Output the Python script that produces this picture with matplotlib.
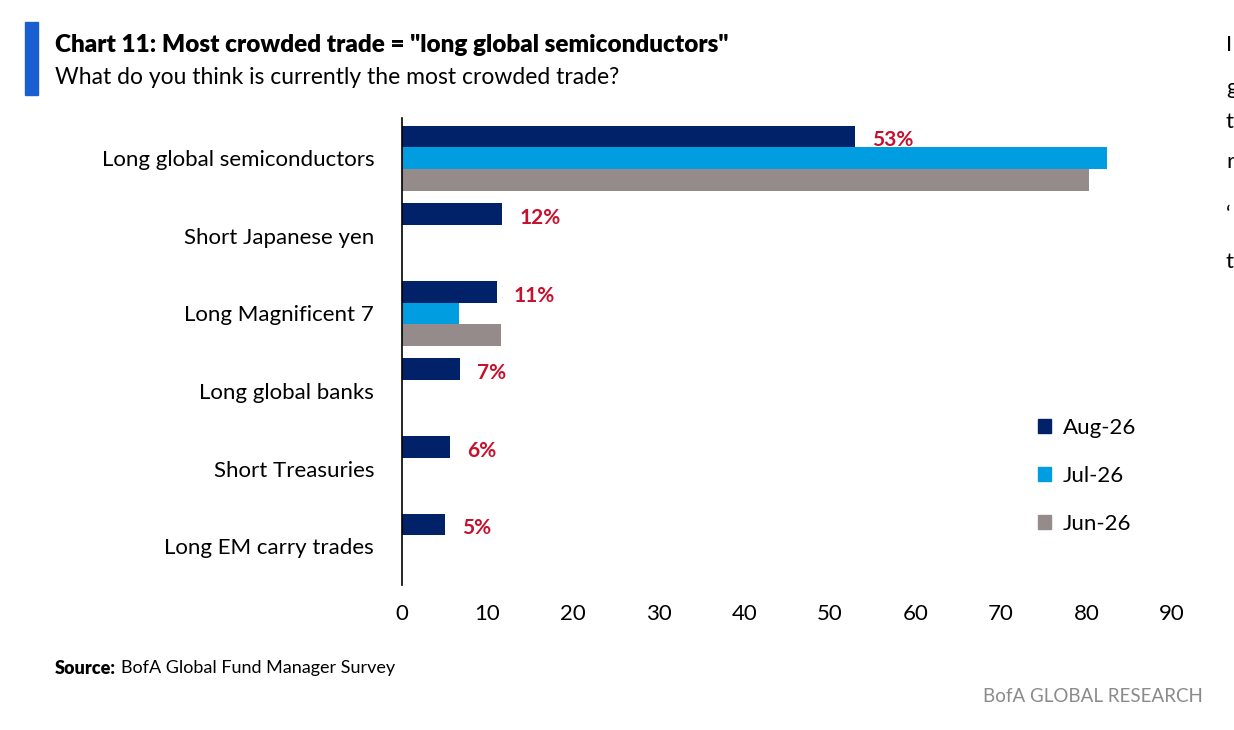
import matplotlib.pyplot as plt
from matplotlib.patches import Rectangle

# === Data ===
categories = ['Long global semiconductors', 'Short Japanese yen', 'Long Magnificent 7',
              'Long global banks', 'Short Treasuries', 'Long EM carry trades']
aug = [52.9, 11.7, 11.1, 6.8, 5.6, 5.0]
jul = [82.4, None, 6.7, None, None, None]
jun = [80.3, None, 11.6, None, None, None]
labels = ['53%', '12%', '11%', '7%', '6%', '5%']
xticks = [0, 10, 20, 30, 40, 50, 60, 70, 80, 90]

NAVY, CYAN, GREY, RED = '#012169', '#009ee0', '#958b8b', '#c8102e'
plt.rcParams['font.family'] = ['Lato', 'DejaVu Sans']

fig = plt.figure(figsize=(12.34, 7.3), dpi=100)
ax = fig.add_axes([402 / 1234, 1 - 585 / 730, (1172 - 402) / 1234, (585 - 118) / 730])

h = 0.28
for i, cat in enumerate(categories):
    ax.barh(i - h, aug[i], height=h, color=NAVY)
    if jul[i] is not None:
        ax.barh(i, jul[i], height=h, color=CYAN)
    if jun[i] is not None:
        ax.barh(i + h, jun[i], height=h, color=GREY)
    ax.text(aug[i] + 2.0, i - h + 0.05, labels[i], color=RED, fontsize=15,
            fontweight='bold', va='center', ha='left')

ax.set_yticks(range(len(categories)))
ax.set_yticklabels(categories, fontsize=16)
ax.set_xticks(xticks)
ax.set_xticklabels([str(t) for t in xticks], fontsize=16)
ax.set_xlim(0, 90)
ax.set_ylim(5.5, -0.52)
ax.tick_params(length=0, pad=20)
ax.tick_params(axis='x', pad=14)
for s in ['top', 'right', 'bottom']:
    ax.spines[s].set_visible(False)
ax.spines['left'].set_linewidth(1.2)

# legend
handles = [Rectangle((0, 0), 1, 1, color=c) for c in (NAVY, CYAN, GREY)]
ax.legend(handles, ['Aug-26', 'Jul-26', 'Jun-26'], loc='upper left',
          bbox_to_anchor=(0.8, 0.4), frameon=False, fontsize=16,
          handlelength=0.6, handleheight=0.6, labelspacing=1.25, handletextpad=0.5)

# header
fig.patches.append(Rectangle((25 / 1234, 1 - 95 / 730), 13 / 1234, 73 / 730,
                             transform=fig.transFigure, color='#1a5fd0'))
fig.text(55 / 1234, 1 - 45 / 730, 'Chart 11: Most crowded trade = "long global semiconductors"',
         fontsize=17.5, fontweight='heavy', va='center')
fig.text(55 / 1234, 1 - 78 / 730, 'What do you think is currently the most crowded trade?',
         fontsize=16.5, va='center')

# footer
fig.text(55 / 1234, 1 - 668 / 730, 'Source:', fontsize=13, fontweight='heavy', va='center')
fig.text(121 / 1234, 1 - 668 / 730, 'BofA Global Fund Manager Survey', fontsize=13, va='center')
fig.text(1203 / 1234, 1 - 696 / 730, 'BofA GLOBAL RESEARCH', fontsize=13.5, color='#8a8a8a',
         va='center', ha='right')

# clipped text from neighbouring column
for ch, y in [('I', 45), ('g', 88), ('t', 122), ('r', 162), ('\u2018', 215), ('t', 262)]:
    fig.text(1226 / 1234, 1 - y / 730, ch, fontsize=16, va='center', ha='left')

fig.savefig('out.png', dpi=100)
